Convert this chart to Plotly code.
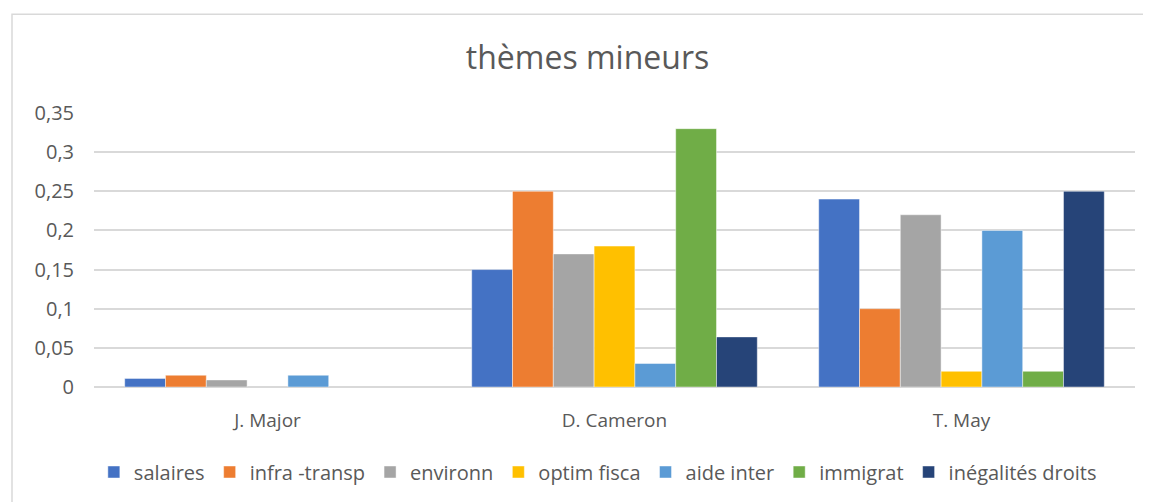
import plotly.graph_objects as go

categories = ["J. Major", "D. Cameron", "T. May"]
series_names = ["salaires", "infra -transp", "environn", "optim fisca", "aide inter", "immigrat", "inégalités droits"]
salaires = [0.011, 0.15, 0.24]
infra_transp = [0.015, 0.25, 0.10]
environn = [0.009, 0.17, 0.22]
optim_fisca = [None, 0.18, 0.02]
aide_inter = [0.015, 0.03, 0.20]
immigrat = [None, 0.33, 0.02]
inegalites_droits = [None, 0.064, 0.25]
colors = ["#4472C4", "#ED7D31", "#A5A5A5", "#FFC000", "#5B9BD5", "#70AD47", "#264478"]
y_ticks = [0, 0.05, 0.1, 0.15, 0.2, 0.25, 0.3, 0.35]

values = [salaires, infra_transp, environn, optim_fisca, aide_inter, immigrat, inegalites_droits]

FONT = "Open Sans"
W, H = 1143, 494  # page body has an 8px offset
fig = go.Figure()
for name, vals, col in zip(series_names, values, colors):
    fig.add_trace(go.Bar(
        x=categories, y=vals, name=name,
        marker=dict(color=col, line=dict(color="rgba(255,255,255,0.6)", width=0.75)),
    ))

fig.update_layout(
    width=W, height=H,
    barmode="group", bargap=0.177, bargroupgap=0,
    separators=", ",
    paper_bgcolor="white", plot_bgcolor="white",
    margin=dict(l=86, r=16, t=105, b=114),
    title=dict(text="thèmes mineurs", x=579.5 / W, xref="container", xanchor="center",
               y=1 - 50 / H, yref="container", yanchor="middle",
               font=dict(family=FONT, size=32, color="#595959")),
    font=dict(family=FONT, size=19, color="#595959"),
    xaxis=dict(showgrid=False, showline=False, ticks="", ticklabelstandoff=20,
               tickfont=dict(size=19, color="#595959")),
    yaxis=dict(range=[0, 0.35], tickvals=y_ticks, ticktext=[str(v).replace(".", ",") for v in y_ticks],
               showgrid=True, gridcolor="#D9D9D9", gridwidth=1.5, zeroline=True,
               zerolinecolor="#D9D9D9", zerolinewidth=1.5, showline=False, ticks="",
               ticklabelstandoff=19, tickfont=dict(size=20, color="#595959")),
    legend=dict(orientation="h", x=0.484, xanchor="center", y=(388 - 472) / 275, yanchor="middle",
                font=dict(size=20, color="#595959"), itemwidth=30, traceorder="normal"),
    showlegend=True,
)
fig.add_shape(type="rect", xref="paper", yref="paper",
              x0=(4 - 86) / 1041, x1=1.2, y0=-0.6, y1=(388 - 14) / 275,
              line=dict(color="#D9D9D9", width=1.5), fillcolor="rgba(0,0,0,0)", layer="below")

fig.write_html("out.html")
